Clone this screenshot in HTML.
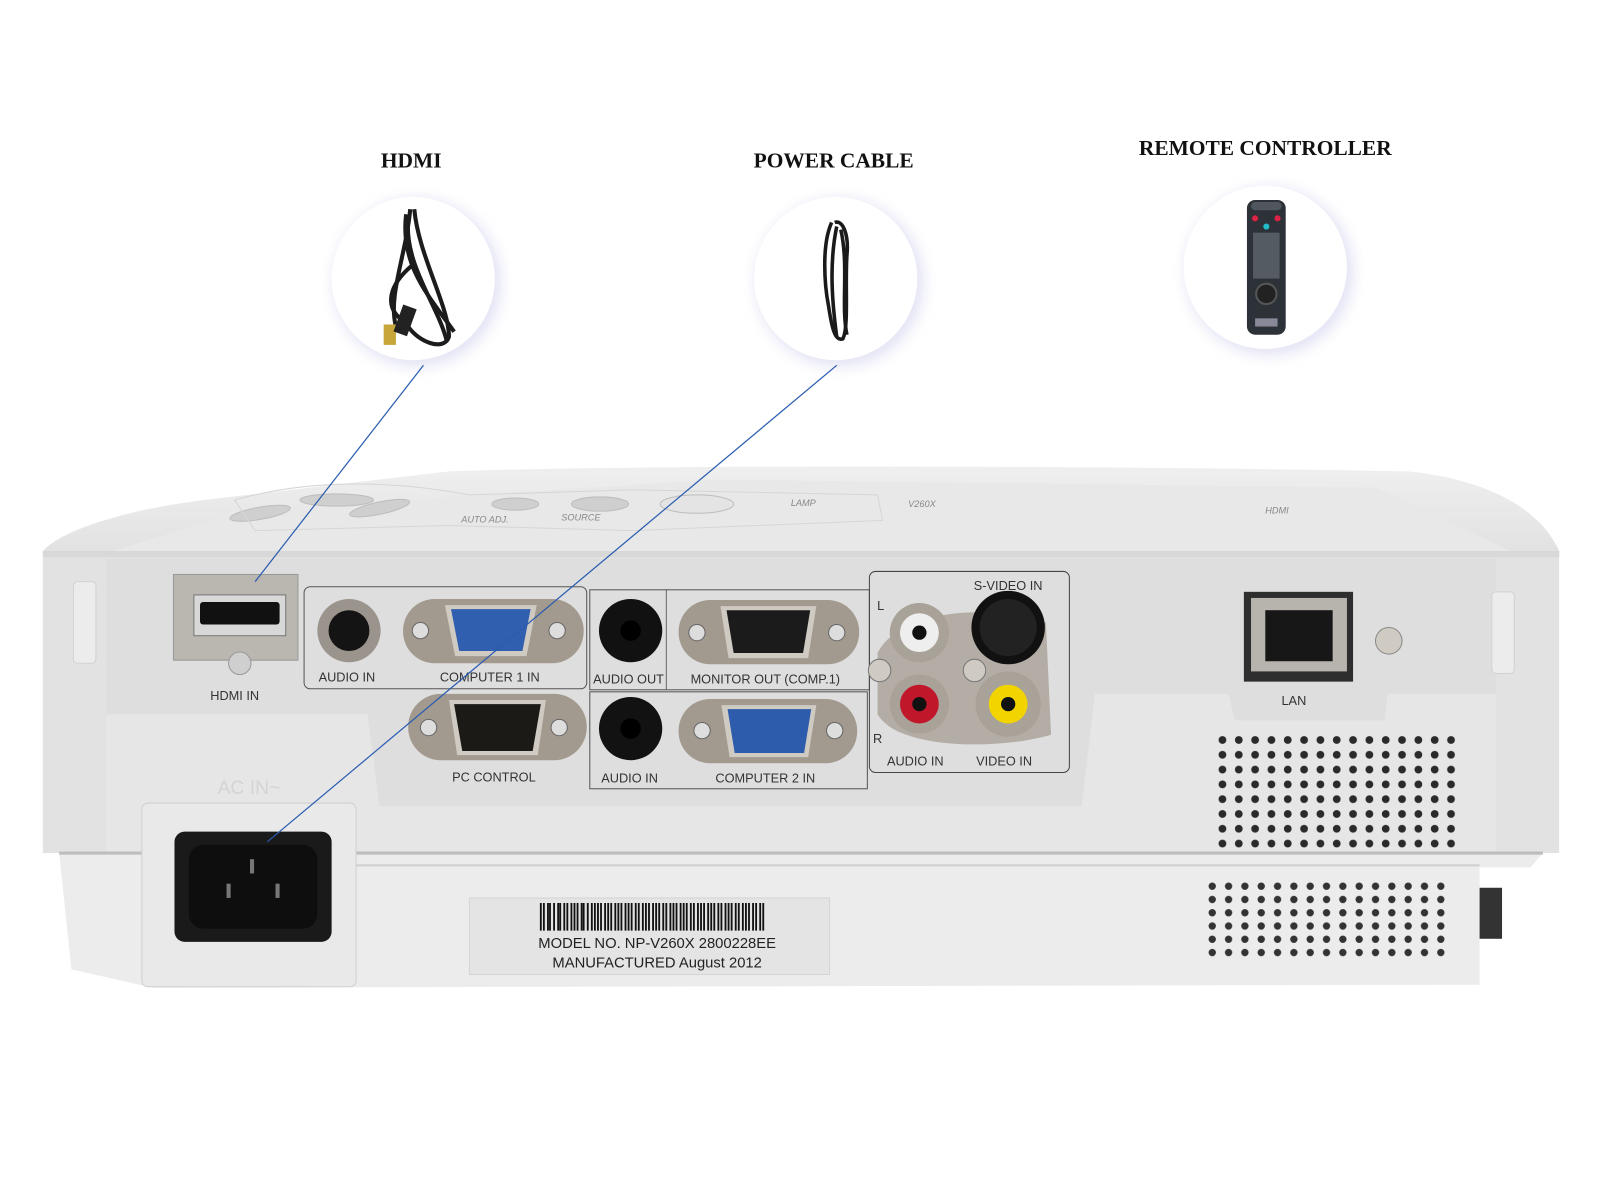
<!DOCTYPE html>
<html><head><meta charset="utf-8"><style>
html,body{margin:0;padding:0;background:#fff;}
svg{display:block}
.t{font-family:"Liberation Serif",serif;font-weight:bold;font-size:21px;fill:#111}
.p{font-family:"Liberation Sans",sans-serif;font-size:12.5px;fill:#333;text-anchor:middle}
.tp{font-family:"Liberation Sans",sans-serif;font-size:9px;fill:#888;font-style:italic}
</style></head><body>
<svg width="1600" height="1200" viewBox="0 0 1568 1176" xmlns="http://www.w3.org/2000/svg">
<defs>
<filter id="bl" x="-30%" y="-30%" width="160%" height="160%"><feGaussianBlur stdDeviation="7"/></filter>
<linearGradient id="top" x1="0" y1="0" x2="0" y2="1"><stop offset="0" stop-color="#efefef"/><stop offset="1" stop-color="#e2e2e2"/></linearGradient>
<pattern id="dots" x="1190" y="718" width="16" height="14.5" patternUnits="userSpaceOnUse"><circle cx="8" cy="7.2" r="3.8" fill="#2a2a2a"/></pattern>
<pattern id="dots2" x="1180" y="862" width="16" height="13" patternUnits="userSpaceOnUse"><circle cx="8" cy="6.5" r="3.6" fill="#333"/></pattern>
</defs>
<rect width="1568" height="1176" fill="#fff"/>
<text class="t" x="403" y="164" text-anchor="middle">HDMI</text>
<text class="t" x="817" y="164" text-anchor="middle">POWER CABLE</text>
<text class="t" x="1240" y="152" text-anchor="middle">REMOTE CONTROLLER</text>
<circle cx="409" cy="277" r="82" fill="#e2e2f4" filter="url(#bl)"/><circle cx="405" cy="273" r="80" fill="#fff"/>
<circle cx="823" cy="277" r="82" fill="#e2e2f4" filter="url(#bl)"/><circle cx="819" cy="273" r="80" fill="#fff"/>
<circle cx="1244" cy="266" r="82" fill="#e2e2f4" filter="url(#bl)"/><circle cx="1240" cy="262" r="80" fill="#fff"/>
<g fill="none" stroke="#1c1c1c" stroke-width="4">
<path d="M402 205 C398 250 380 290 388 320"/><path d="M406 205 C410 250 440 300 440 330 C435 345 410 335 400 320"/>
<path d="M398 210 C392 260 420 290 445 325"/><path d="M404 260 C380 280 378 300 392 312"/>
<path d="M400 215 C396 260 430 300 438 335"/>
</g>
<rect x="376" y="318" width="12" height="20" fill="#c8a63a"/><rect x="390" y="300" width="14" height="28" fill="#222" transform="rotate(20 397 314)"/>
<g fill="none" stroke="#1a1a1a" stroke-width="3.5">
<path d="M815 218 C805 240 808 280 812 300 C815 320 818 335 826 332 C832 320 828 280 830 250 C832 230 826 215 818 218"/>
<path d="M820 222 C812 260 816 300 820 330"/><path d="M824 225 C832 260 824 300 830 328"/>
</g>
<rect x="1222" y="196" width="38" height="132" rx="8" fill="#2d3238"/>
<rect x="1226" y="198" width="30" height="8" rx="4" fill="#50565e"/>
<circle cx="1230" cy="214" r="3" fill="#d24"/><circle cx="1252" cy="214" r="3" fill="#d24"/><circle cx="1241" cy="222" r="3" fill="#2bc"/>
<g fill="#555b63"><rect x="1228" y="228" width="26" height="45"/></g>
<circle cx="1241" cy="288" r="10" fill="#222" stroke="#555" stroke-width="2"/>
<rect x="1230" y="312" width="22" height="8" fill="#889"/>
<path d="M42 540 C60 520 120 500 200 490 L440 462 C600 456 1000 455 1380 462 C1460 470 1510 500 1528 540 Z" fill="url(#top)"/>
<path d="M110 540 L240 500 L700 470 L1350 478 L1480 540 Z" fill="#e8e8e8"/>
<g fill="#cfcfcf" stroke="#bdbdbd">
<ellipse cx="255" cy="503" rx="30" ry="6" transform="rotate(-10 255 503)"/>
<ellipse cx="330" cy="490" rx="36" ry="6"/><ellipse cx="372" cy="498" rx="30" ry="6" transform="rotate(-12 372 498)"/>
<ellipse cx="505" cy="494" rx="23" ry="6"/><ellipse cx="588" cy="494" rx="28" ry="7"/>
<ellipse cx="683" cy="494" rx="36" ry="9" fill="#e4e4e4"/>
</g>
<path d="M230 490 C300 470 380 470 460 485 L620 480 L860 485 L865 510 L620 520 L440 515 L250 520 Z" fill="none" stroke="#d6d6d6"/>
<text class="tp" x="452" y="512">AUTO ADJ.</text><text class="tp" x="550" y="510">SOURCE</text>
<text class="tp" x="775" y="496">LAMP</text><text class="tp" x="890" y="497" font-size="12">V260X</text>
<text class="tp" x="1240" y="503" font-size="14">HDMI</text>
<rect x="42" y="540" width="1486" height="296" fill="#e2e2e2"/>
<rect x="42" y="540" width="1486" height="6" fill="#d8d8d8"/>
<path d="M104 548 L1466 548 L1466 836 L104 836 Z" fill="#dedede"/>
<path d="M104 700 L360 700 L372 790 L1060 790 L1073 680 L1204 680 L1210 706 L1357 706 L1360 680 L1466 680 L1466 836 L104 836 Z" fill="#e6e6e6"/>
<rect x="72" y="570" width="22" height="80" rx="4" fill="#ececec" stroke="#d2d2d2"/>
<rect x="1462" y="580" width="22" height="80" rx="4" fill="#ececec" stroke="#d2d2d2"/>
<path d="M58 836 L1512 836 L1500 850 L1450 850 L1450 965 L150 968 L70 950 Z" fill="#ececec"/>
<line x1="58" y1="836" x2="1512" y2="836" stroke="#bdbdbd" stroke-width="3"/>
<line x1="150" y1="848" x2="1450" y2="848" stroke="#d0d0d0" stroke-width="2"/>
<rect x="1450" y="870" width="22" height="50" fill="#333"/>
<text x="244" y="778" font-family="Liberation Sans,sans-serif" font-size="19" fill="#d4d4d4" text-anchor="middle">AC IN~</text>
<rect x="139" y="787" width="210" height="180" rx="6" fill="#e9e9e9" stroke="#d0d0d0"/>
<rect x="171" y="815" width="154" height="108" rx="10" fill="#1a1a1a"/>
<rect x="185" y="828" width="126" height="82" rx="14" fill="#0e0e0e"/>
<rect x="222" y="866" width="4" height="14" fill="#777"/><rect x="270" y="866" width="4" height="14" fill="#777"/><rect x="245" y="842" width="4" height="14" fill="#777"/>
<rect x="460" y="880" width="353" height="75" fill="#e4e4e4" stroke="#d4d4d4"/>
<path d="M530 885 V912 M533 885 V912 M537 885 V912 M539 885 V912 M543 885 V912 M547 885 V912 M549 885 V912 M553 885 V912 M556 885 V912 M560 885 V912 M563 885 V912 M566 885 V912 M570 885 V912 M572 885 V912 M576 885 V912 M580 885 V912 M583 885 V912 M586 885 V912 M589 885 V912 M593 885 V912 M596 885 V912 M599 885 V912 M603 885 V912 M606 885 V912 M609 885 V912 M613 885 V912 M616 885 V912 M619 885 V912 M623 885 V912 M626 885 V912 M630 885 V912 M633 885 V912 M636 885 V912 M640 885 V912 M643 885 V912 M646 885 V912 M650 885 V912 M653 885 V912 M657 885 V912 M660 885 V912 M663 885 V912 M667 885 V912 M670 885 V912 M673 885 V912 M677 885 V912 M680 885 V912 M684 885 V912 M687 885 V912 M690 885 V912 M694 885 V912 M697 885 V912 M700 885 V912 M704 885 V912 M707 885 V912 M711 885 V912 M714 885 V912 M717 885 V912 M721 885 V912 M724 885 V912 M728 885 V912 M731 885 V912 M734 885 V912 M738 885 V912 M741 885 V912 M745 885 V912 M748 885 V912" stroke="#111" stroke-width="1.8"/>
<text x="644" y="929" font-family="Liberation Sans,sans-serif" font-size="14.5" fill="#222" text-anchor="middle">MODEL NO. NP-V260X   2800228EE</text>
<text x="644" y="948" font-family="Liberation Sans,sans-serif" font-size="14.5" fill="#222" text-anchor="middle">MANUFACTURED August 2012</text>
<rect x="170" y="563" width="122" height="84" fill="#bab6b0" stroke="#999"/>
<rect x="190" y="583" width="90" height="40" fill="#d8d8d8" stroke="#777"/>
<rect x="196" y="590" width="78" height="22" rx="3" fill="#111"/>
<circle cx="235" cy="650" r="11" fill="#cfcfcf" stroke="#999"/>
<text class="p" x="230" y="686">HDMI IN</text>
<rect x="298" y="575" width="277" height="100" rx="6" fill="none" stroke="#555"/>
<circle cx="342" cy="618" r="31" fill="#9a948c"/><circle cx="342" cy="618" r="20" fill="#141414"/>
<rect x="395" y="587" width="177" height="63" rx="31" fill="#a39a8f"/>
<circle cx="412" cy="618" r="8" fill="#ddd" stroke="#666"/><circle cx="546" cy="618" r="8" fill="#ddd" stroke="#666"/>
<path d="M436 593 L526 593 L516 643 L446 643 Z" fill="#cfcac2"/>
<path d="M442 597 L520 597 L512 638 L450 638 Z" fill="#2f5fae"/>
<text class="p" x="340" y="668">AUDIO IN</text><text class="p" x="480" y="668">COMPUTER 1 IN</text>
<rect x="578" y="578" width="274" height="98" fill="none" stroke="#555"/>
<line x1="653" y1="578" x2="653" y2="676" stroke="#666"/>
<circle cx="618" cy="618" r="31" fill="#111"/><circle cx="618" cy="618" r="10" fill="#000"/>
<rect x="665" y="588" width="177" height="63" rx="31" fill="#a39a8f"/>
<circle cx="683" cy="620" r="8" fill="#ddd" stroke="#666"/><circle cx="820" cy="620" r="8" fill="#ddd" stroke="#666"/>
<path d="M706 594 L800 594 L792 645 L714 645 Z" fill="#cfcac2"/>
<path d="M712 598 L794 598 L787 640 L719 640 Z" fill="#1b1b1b"/>
<text class="p" x="616" y="670">AUDIO OUT</text><text class="p" x="750" y="670">MONITOR OUT (COMP.1)</text>
<rect x="400" y="680" width="175" height="65" rx="32" fill="#a39a8f"/>
<circle cx="420" cy="713" r="8" fill="#ddd" stroke="#666"/><circle cx="548" cy="713" r="8" fill="#ddd" stroke="#666"/>
<path d="M440 686 L535 686 L527 740 L448 740 Z" fill="#cfcac2"/>
<path d="M445 690 L530 690 L522 736 L453 736 Z" fill="#1c1a17"/>
<text class="p" x="484" y="766">PC CONTROL</text>
<rect x="578" y="678" width="272" height="95" fill="none" stroke="#555"/>
<circle cx="618" cy="714" r="31" fill="#121212"/><circle cx="618" cy="714" r="10" fill="#000"/>
<rect x="665" y="685" width="175" height="63" rx="31" fill="#a39a8f"/>
<circle cx="688" cy="716" r="8" fill="#ddd" stroke="#666"/><circle cx="818" cy="716" r="8" fill="#ddd" stroke="#666"/>
<path d="M707 691 L800 691 L792 742 L715 742 Z" fill="#cfcac2"/>
<path d="M713 695 L795 695 L788 738 L720 738 Z" fill="#2c5cab"/>
<text class="p" x="617" y="767">AUDIO IN</text><text class="p" x="750" y="767">COMPUTER 2 IN</text>
<rect x="852" y="560" width="196" height="197" rx="6" fill="none" stroke="#444"/>
<path d="M860 640 C880 600 960 590 1025 610 L1030 720 C980 735 880 735 860 700 Z" fill="#b3ada5"/>
<circle cx="901" cy="620" r="29" fill="#a8a298"/><circle cx="901" cy="620" r="19" fill="#eee"/><circle cx="901" cy="620" r="7" fill="#111"/>
<circle cx="988" cy="615" r="36" fill="#111"/><circle cx="988" cy="615" r="28" fill="#222"/>
<circle cx="901" cy="690" r="29" fill="#a8a298"/><circle cx="901" cy="690" r="19" fill="#c0182a"/><circle cx="901" cy="690" r="7" fill="#111"/>
<circle cx="988" cy="690" r="32" fill="#a8a298"/><circle cx="988" cy="690" r="19" fill="#f2d500"/><circle cx="988" cy="690" r="7" fill="#111"/>
<circle cx="862" cy="657" r="11" fill="#cfcac2" stroke="#777"/><circle cx="955" cy="657" r="11" fill="#cfcac2" stroke="#777"/>
<text class="p" x="988" y="578">S-VIDEO IN</text>
<text class="p" x="863" y="598">L</text><text class="p" x="860" y="728">R</text>
<text class="p" x="897" y="750">AUDIO IN</text><text class="p" x="984" y="750">VIDEO IN</text>
<rect x="1219" y="580" width="107" height="88" fill="#2e2e2e"/>
<rect x="1226" y="586" width="94" height="72" fill="#b7b3ad"/>
<rect x="1240" y="598" width="66" height="50" fill="#171717"/>
<circle cx="1361" cy="628" r="13" fill="#cfcac2" stroke="#888"/>
<text class="p" x="1268" y="691">LAN</text>
<rect x="1190" y="718" width="240" height="116" fill="url(#dots)"/>
<rect x="1170" y="855" width="270" height="85" fill="#ececec"/>
<rect x="1180" y="862" width="240" height="78" fill="url(#dots2)"/>
<line x1="415" y1="358" x2="250" y2="570" stroke="#2a5cb0" stroke-width="1.2"/>
<line x1="820" y1="358" x2="262" y2="825" stroke="#2a5cb0" stroke-width="1.2"/>
</svg>
</body></html>
